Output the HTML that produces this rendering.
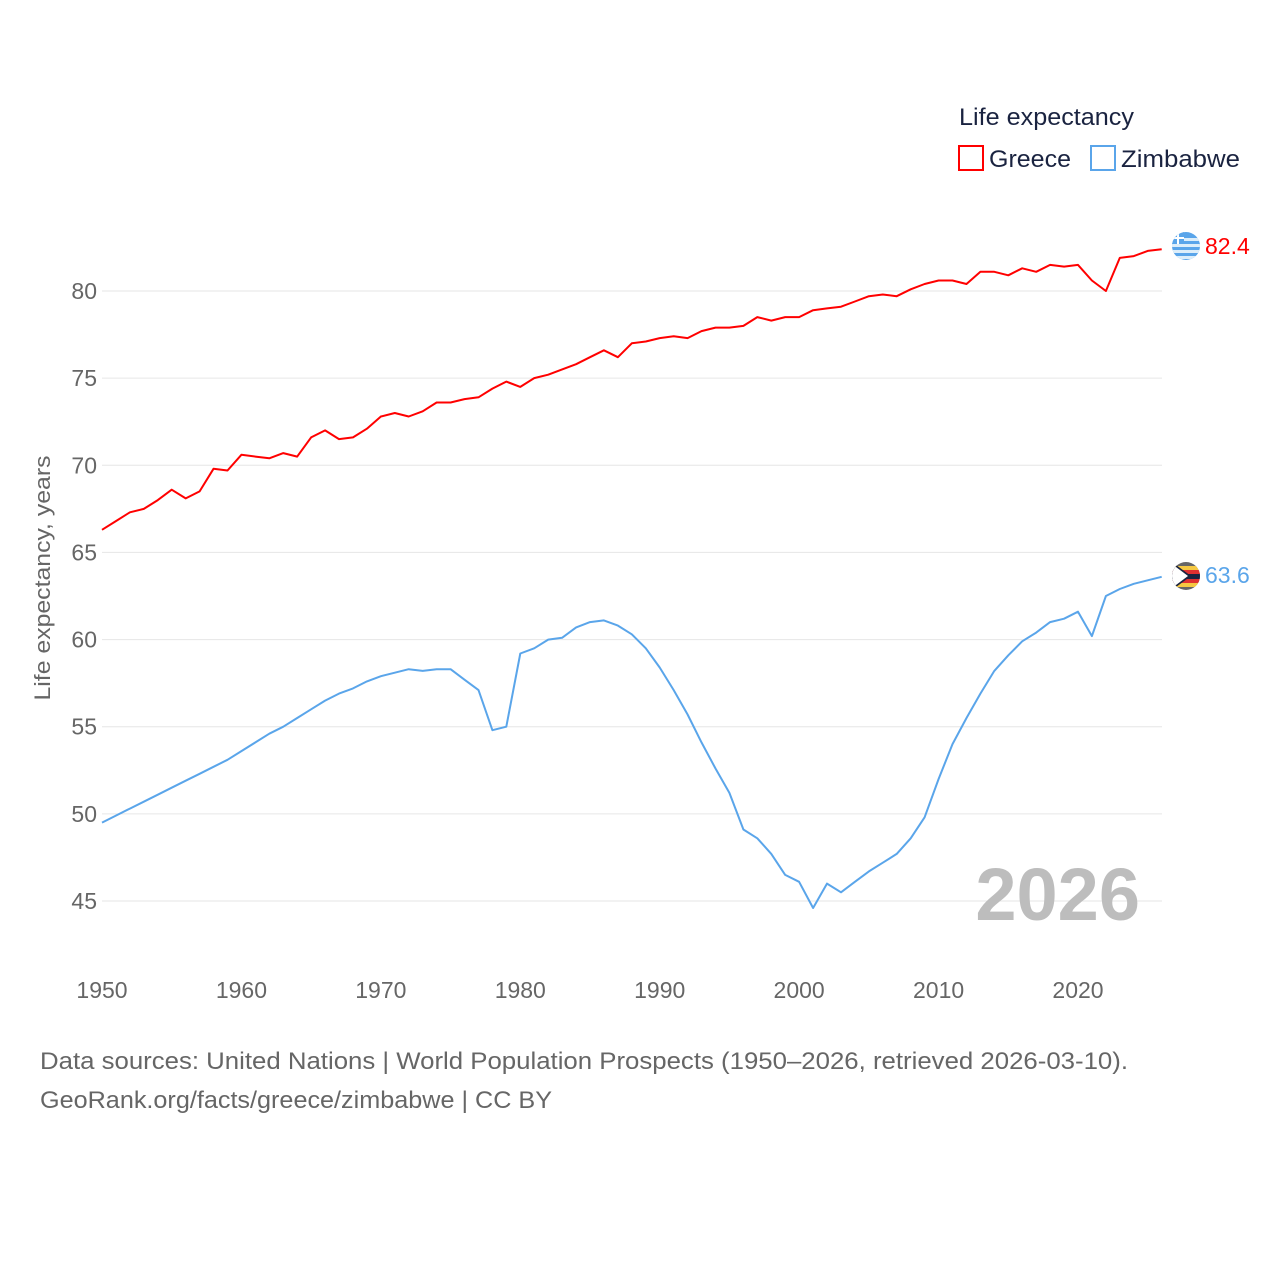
<!DOCTYPE html>
<html><head><meta charset="utf-8"><style>
body{margin:0;background:#fff;width:1280px;height:1280px;overflow:hidden;font-family:"Liberation Sans",sans-serif}
</style></head><body>
<svg id="chart" width="1280" height="1280" xmlns="http://www.w3.org/2000/svg" font-family="Liberation Sans, sans-serif">
<defs>
<clipPath id="cg"><circle cx="1186" cy="246" r="14"/></clipPath>
<clipPath id="cz"><circle cx="1186" cy="576" r="14"/></clipPath>
</defs>
<g id="grid"></g>
<g id="yticks"></g>
<g id="xticks"></g>
<text transform="translate(50,578) rotate(-90)" text-anchor="middle" font-size="22" fill="#666" textLength="245" lengthAdjust="spacingAndGlyphs">Life expectancy, years</text>
<g id="series"></g>
<text x="1140" y="920" text-anchor="end" font-size="74" font-weight="bold" fill="#bdbdbd">2026</text>
<g>
<text x="959" y="125" font-size="24" fill="#1a2340" textLength="175" lengthAdjust="spacingAndGlyphs">Life expectancy</text>
<g><rect x="959" y="146" width="24" height="24" fill="none" stroke="#f00" stroke-width="2"/><text x="989" y="167" font-size="24" fill="#1a2340" textLength="82" lengthAdjust="spacingAndGlyphs">Greece</text></g>
<g><rect x="1091" y="146" width="24" height="24" fill="none" stroke="#5aa5ea" stroke-width="2"/><text x="1121" y="167" font-size="24" fill="#1a2340" textLength="119" lengthAdjust="spacingAndGlyphs">Zimbabwe</text></g>
</g>
<g clip-path="url(#cg)">
<rect x="1172" y="232" width="28" height="28" fill="#5aa5ea"/>
<rect x="1172" y="238" width="28" height="3" fill="#ddeefa"/><rect x="1172" y="244" width="28" height="3" fill="#ddeefa"/><rect x="1172" y="250" width="28" height="3" fill="#ddeefa"/><rect x="1172" y="256" width="28" height="3" fill="#ddeefa"/>
<rect x="1172" y="232" width="12" height="12" fill="#5aa5ea"/><rect x="1172" y="237" width="12" height="2" fill="#fff"/><rect x="1177" y="232" width="2" height="12" fill="#fff"/>
</g>
<g clip-path="url(#cz)">
<rect x="1172" y="562" width="28" height="28" fill="#666"/>
<rect x="1172" y="566" width="28" height="4" fill="#f5c842"/><rect x="1172" y="570" width="28" height="4" fill="#e03030"/><rect x="1172" y="574" width="28" height="5" fill="#1a2340"/><rect x="1172" y="579" width="28" height="4" fill="#e03030"/><rect x="1172" y="583" width="28" height="4" fill="#f5c842"/>
<polygon points="1172,562 1191,576 1172,590" fill="#1a2340"/><polygon points="1172,564 1188,576 1172,588" fill="#fff"/>
</g>
<text x="1205" y="254" font-size="23" fill="#f00">82.4</text>
<text x="1205" y="583" font-size="23" fill="#5aa5ea">63.6</text>
<text x="40" y="1069" font-size="24" fill="#666" textLength="1088" lengthAdjust="spacingAndGlyphs">Data sources: United Nations | World Population Prospects (1950–2026, retrieved 2026-03-10).</text>
<text x="40" y="1108" font-size="24" fill="#666" textLength="512" lengthAdjust="spacingAndGlyphs">GeoRank.org/facts/greece/zimbabwe | CC BY</text>
</svg>
<script>
const startYear = 1950;
const greece = [66.3,66.8,67.3,67.5,68.0,68.6,68.1,68.5,69.8,69.7,70.6,70.5,70.4,70.7,70.5,71.6,72.0,71.5,71.6,72.1,72.8,73.0,72.8,73.1,73.6,73.6,73.8,73.9,74.4,74.8,74.5,75.0,75.2,75.5,75.8,76.2,76.6,76.2,77.0,77.1,77.3,77.4,77.3,77.7,77.9,77.9,78.0,78.5,78.3,78.5,78.5,78.9,79.0,79.1,79.4,79.7,79.8,79.7,80.1,80.4,80.6,80.6,80.4,81.1,81.1,80.9,81.3,81.1,81.5,81.4,81.5,80.6,80.0,81.9,82.0,82.3,82.4];
const zimbabwe = [49.5,49.9,50.3,50.7,51.1,51.5,51.9,52.3,52.7,53.1,53.6,54.1,54.6,55.0,55.5,56.0,56.5,56.9,57.2,57.6,57.9,58.1,58.3,58.2,58.3,58.3,57.7,57.1,54.8,55.0,59.2,59.5,60.0,60.1,60.7,61.0,61.1,60.8,60.3,59.5,58.4,57.1,55.7,54.1,52.6,51.2,49.1,48.6,47.7,46.5,46.1,44.6,46.0,45.5,46.1,46.7,47.2,47.7,48.6,49.8,52.0,54.0,55.5,56.9,58.2,59.1,59.9,60.4,61.0,61.2,61.6,60.2,62.5,62.9,63.2,63.4,63.6];
const yTicks = [45,50,55,60,65,70,75,80];
const xTicks = [1950,1960,1970,1980,1990,2000,2010,2020];
const NS = "http://www.w3.org/2000/svg";
function xs(yr){return 102 + (yr-1950)*(976/70);}
function ys(v){return 291 + (80-v)*(610/35);}
function mk(tag, attrs, parent){const e=document.createElementNS(NS,tag);for(const k in attrs)e.setAttribute(k,attrs[k]);parent.appendChild(e);return e;}
const grid=document.getElementById('grid'), yt=document.getElementById('yticks'), xt=document.getElementById('xticks'), ser=document.getElementById('series');
yTicks.forEach(v=>{
  const l=mk('line',{x1:102,x2:1162,y1:ys(v),y2:ys(v),stroke:'#e6e6e6','stroke-width':1},grid);
  
  
  const t=mk('text',{x:97,y:ys(v)+8,'text-anchor':'end','font-size':23,fill:'#666'},yt);
  t.textContent=v;
  
  
});
xTicks.forEach(v=>{
  const t=mk('text',{x:xs(v),y:998,'text-anchor':'middle','font-size':23,fill:'#666'},xt);
  t.textContent=v;
  
  
});
function line(arr,color,name){
  const d=arr.map((v,i)=>(i?'L':'M')+xs(startYear+i).toFixed(1)+','+ys(v).toFixed(1)).join(' ');
  const p=mk('path',{d:d,fill:'none',stroke:color,'stroke-width':2,'stroke-linejoin':'round'},ser);
  
  
}
line(greece,'#f00','greece-line');
line(zimbabwe,'#5aa5ea','zimbabwe-line');
</script>
</body></html>
